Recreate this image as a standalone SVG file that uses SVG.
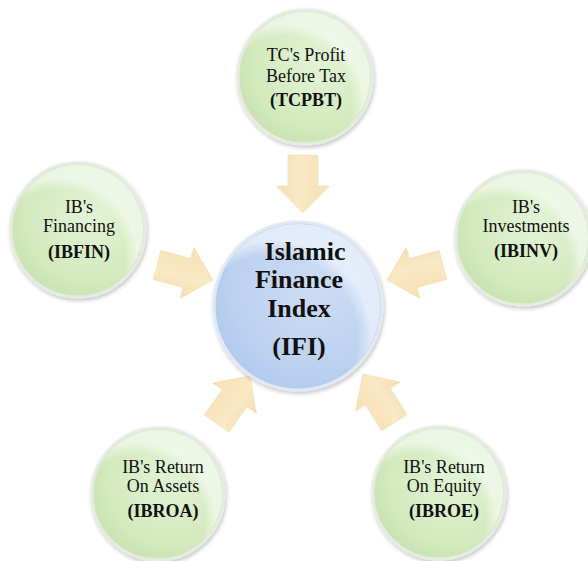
<svg xmlns="http://www.w3.org/2000/svg" width="588" height="561" viewBox="0 0 588 561">
  <style>
    .lbl { font-family: 'Liberation Serif', 'Times New Roman', 'DejaVu Serif', serif; font-size: 18px; fill: #111; text-anchor: middle; }
    .b { font-weight: bold; }
    .big { font-family: 'Liberation Serif', 'Times New Roman', 'DejaVu Serif', serif; font-size: 26px; font-weight: bold; fill: #111; text-anchor: middle; }
    .green { fill: url(#gGreen); stroke: #e4ebe0; stroke-width: 3; filter: url(#sh); }
    .blue { fill: url(#gBlue); stroke: #dfe8f3; stroke-width: 3; filter: url(#sh); }
    .arrow { fill: url(#gArrow); stroke: #f3e2bb; stroke-width: 0.8; }
  </style>
  <defs>
    <radialGradient id="gGreen" cx="0.6" cy="0.4" r="0.65">
      <stop offset="0" stop-color="#e3f3d6"/>
      <stop offset="0.75" stop-color="#d2eabd"/>
      <stop offset="1" stop-color="#c8e2b1"/>
    </radialGradient>
    <radialGradient id="gBlue" cx="0.6" cy="0.4" r="0.65">
      <stop offset="0" stop-color="#cddcf4"/>
      <stop offset="0.75" stop-color="#bcd1f0"/>
      <stop offset="1" stop-color="#b0c9ed"/>
    </radialGradient>
    <linearGradient id="gArrow" x1="0" y1="0" x2="0" y2="1">
      <stop offset="0" stop-color="#f6e0b0"/>
      <stop offset="0.6" stop-color="#fae9c6"/>
      <stop offset="1" stop-color="#f3ddb0"/>
    </linearGradient>
    <radialGradient id="gShine" cx="0.35" cy="0.7" r="0.6">
      <stop offset="0" stop-color="#ffffff" stop-opacity="0"/>
      <stop offset="0.85" stop-color="#ffffff" stop-opacity="0"/>
      <stop offset="1" stop-color="#ffffff" stop-opacity="0.55"/>
    </radialGradient>
    <filter id="sh" x="-20%" y="-20%" width="140%" height="140%">
      <feGaussianBlur in="SourceAlpha" stdDeviation="2"/>
      <feOffset dx="1" dy="2" result="b"/>
      <feComponentTransfer><feFuncA type="linear" slope="0.25"/></feComponentTransfer>
      <feMerge><feMergeNode/><feMergeNode in="SourceGraphic"/></feMerge>
    </filter>
    <path id="arr" d="M-58,-15 L-27,-15 L-27,-26.5 L0,0 L-27,26.5 L-27,15 L-58,15 Z"/>
  </defs>

  <rect width="588" height="561" fill="#ffffff"/>

  <g id="connectors">
    <use href="#arr" class="arrow" transform="translate(303,213) rotate(90)"/>
    <use href="#arr" class="arrow" transform="translate(213,280) rotate(15)"/>
    <use href="#arr" class="arrow" transform="translate(387,280) rotate(165)"/>
    <use href="#arr" class="arrow" transform="translate(250,376) rotate(-55)"/>
    <use href="#arr" class="arrow" transform="translate(363,374) rotate(-123)"/>
  </g>

  <g id="IFI">
    <circle cx="298" cy="306" r="84" class="blue"/>
    <circle cx="298" cy="306" r="82" fill="url(#gShine)"/>
    <text class="big" x="305" y="260">Islamic</text>
    <text class="big" x="299" y="288">Finance</text>
    <text class="big" x="299" y="317">Index</text>
    <text class="big" x="299" y="355">(IFI)</text>
  </g>

  <g id="TCPBT">
    <circle cx="305" cy="77" r="67" class="green"/>
    <circle cx="305" cy="77" r="65" fill="url(#gShine)"/>
    <text class="lbl" x="306" y="61">TC's Profit</text>
    <text class="lbl" x="306" y="82">Before Tax</text>
    <text class="lbl b" x="306" y="106">(TCPBT)</text>
  </g>

  <g id="IBFIN">
    <circle cx="78" cy="230" r="67" class="green"/>
    <circle cx="78" cy="230" r="65" fill="url(#gShine)"/>
    <text class="lbl" x="79" y="213">IB's</text>
    <text class="lbl" x="79" y="232">Financing</text>
    <text class="lbl b" x="79" y="258">(IBFIN)</text>
  </g>

  <g id="IBINV">
    <circle cx="523" cy="238" r="67" class="green"/>
    <circle cx="523" cy="238" r="65" fill="url(#gShine)"/>
    <text class="lbl" x="526" y="213">IB's</text>
    <text class="lbl" x="526" y="232">Investments</text>
    <text class="lbl b" x="526" y="257">(IBINV)</text>
  </g>

  <g id="IBROA">
    <circle cx="158" cy="494" r="66" class="green"/>
    <circle cx="158" cy="494" r="64" fill="url(#gShine)"/>
    <text class="lbl" x="163" y="473">IB's Return</text>
    <text class="lbl" x="163" y="492">On Assets</text>
    <text class="lbl b" x="163" y="517">(IBROA)</text>
  </g>

  <g id="IBROE">
    <circle cx="439" cy="493" r="66" class="green"/>
    <circle cx="439" cy="493" r="64" fill="url(#gShine)"/>
    <text class="lbl" x="444" y="473">IB's Return</text>
    <text class="lbl" x="444" y="492">On Equity</text>
    <text class="lbl b" x="444" y="517">(IBROE)</text>
  </g>
</svg>
